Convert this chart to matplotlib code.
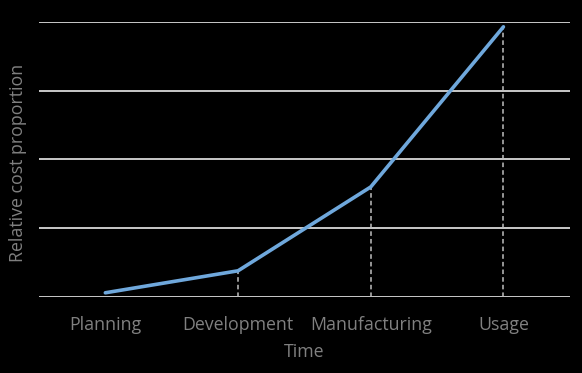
import numpy as np
import matplotlib.pyplot as plt

plt.rcParams['font.family'] = ['Open Sans', 'DejaVu Sans']

stages = ['Planning', 'Development', 'Manufacturing', 'Usage']
cost = [0.06, 0.38, 1.6, 3.93]

fig = plt.figure(figsize=(5.82, 3.73), dpi=100, facecolor='black')
ax = fig.add_axes([0.067, 0.204, 0.912, 0.737])
ax.set_facecolor('black')

x = np.arange(len(stages)) + 0.5
ax.set_xlim(0, 4)
ax.set_ylim(0, 4)

for yv in range(5):
    ax.axhline(yv, color='#d9d9d9', lw=1.3, zorder=1)

# drop lines from each point to the axis
ax.vlines(x[1:], 0, cost[1:], colors='#bfbfbf', linestyles=(0, (3, 2)), lw=1.1, zorder=2)
ax.plot(x, cost, color='#6fa8dc', lw=2.6, zorder=3, solid_capstyle='round')

ax.set_xticks(x)
ax.set_xticklabels(stages, color='#808080', fontsize=12.8)
ax.set_yticks([])
ax.tick_params(axis='x', length=0, pad=14)
for s in ax.spines.values():
    s.set_visible(False)

ax.set_xlabel('Time', color='#808080', fontsize=12.8, labelpad=6)
fig.text(0.031, 0.563, 'Relative cost proportion', rotation=90, color='#808080',
         fontsize=12.8, ha='center', va='center')

fig.savefig('out.png', dpi=100, facecolor='black')
